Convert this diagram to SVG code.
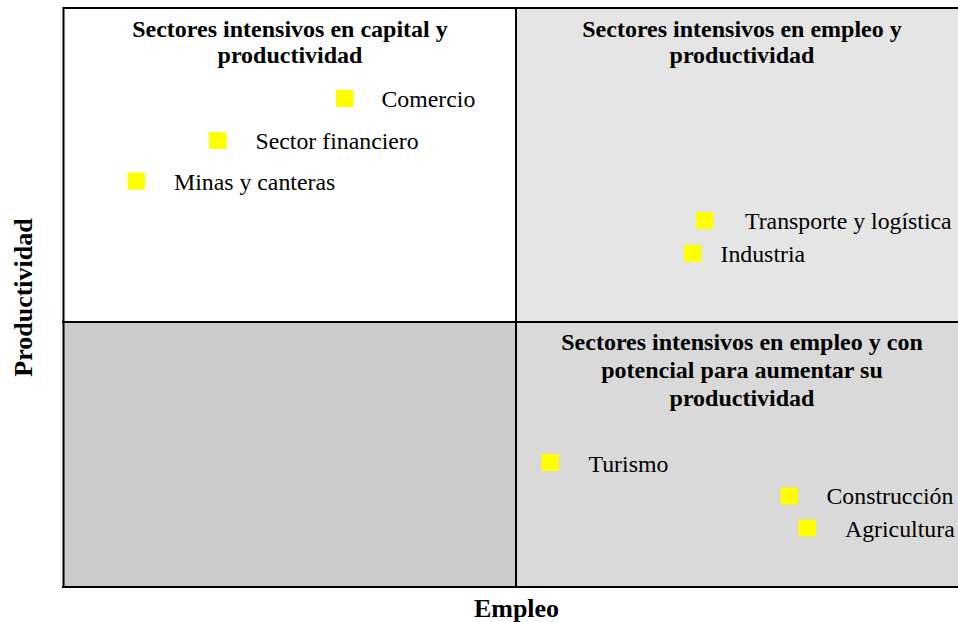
<svg xmlns="http://www.w3.org/2000/svg" width="958" height="622" viewBox="0 0 958 622">
<style>
.t{font-size:24px;font-weight:bold;text-anchor:middle}
.i{font-size:23.8px}
.ax{font-size:26px;font-weight:bold;text-anchor:middle}
.sq{fill:#ffff00}
.ln{stroke:#000;stroke-width:2;fill:none}
</style>
<rect width="958" height="622" fill="#fff"/>
<g font-family="'Liberation Serif', 'Times New Roman', serif" fill="#000">
<g id="q-tl">
<rect x="64" y="8" width="452" height="314" fill="#ffffff"/>
<text class="t" x="290" y="37">Sectores intensivos en capital y</text>
<text class="t" x="290" y="63">productividad</text>
</g>
<g id="q-tr">
<rect x="516" y="8" width="442" height="314" fill="#e5e5e5"/>
<text class="t" x="742" y="37">Sectores intensivos en empleo y</text>
<text class="t" x="742" y="63">productividad</text>
</g>
<g id="q-bl">
<rect x="64" y="322" width="452" height="265" fill="#cbcbcb"/>
</g>
<g id="q-br">
<rect x="516" y="322" width="442" height="265" fill="#d9d9d9"/>
<text class="t" x="742" y="350">Sectores intensivos en empleo y con</text>
<text class="t" x="742" y="378">potencial para aumentar su</text>
<text class="t" x="742" y="406">productividad</text>
</g>
<g id="comercio"><rect class="sq" x="336" y="90" width="17.5" height="17"/><text class="i" x="381.5" y="107">Comercio</text></g>
<g id="sector-financiero"><rect class="sq" x="209" y="132" width="17.5" height="17"/><text class="i" x="255.5" y="149">Sector financiero</text></g>
<g id="minas"><rect class="sq" x="127.5" y="172.5" width="17.5" height="17"/><text class="i" x="174" y="190">Minas y canteras</text></g>
<g id="transporte"><rect class="sq" x="696" y="212" width="17.5" height="17"/><text class="i" x="745" y="229">Transporte y logística</text></g>
<g id="industria"><rect class="sq" x="684" y="245" width="17.5" height="17"/><text class="i" x="720.5" y="262">Industria</text></g>
<g id="turismo"><rect class="sq" x="541.5" y="454" width="17.5" height="17"/><text class="i" x="588.5" y="471.5">Turismo</text></g>
<g id="construccion"><rect class="sq" x="780.5" y="487.5" width="17.5" height="17"/><text class="i" x="826.5" y="504">Construcción</text></g>
<g id="agricultura"><rect class="sq" x="798.5" y="519.5" width="17.5" height="17"/><text class="i" x="845" y="537">Agricultura</text></g>
<g id="connectors">
<line class="ln" x1="63.5" y1="8" x2="958" y2="8"/>
<line class="ln" x1="63.5" y1="7" x2="63.5" y2="588"/>
<line class="ln" x1="516" y1="8" x2="516" y2="587"/>
<line class="ln" x1="62" y1="322" x2="958" y2="322"/>
<line class="ln" x1="62" y1="587" x2="958" y2="587"/>
</g>
<g id="axis-labels">
<text class="ax" x="516.5" y="616.5">Empleo</text>
<text class="ax" transform="translate(31.5 297.5) rotate(-90)" x="0" y="0">Productividad</text>
</g>
</g>
</svg>
